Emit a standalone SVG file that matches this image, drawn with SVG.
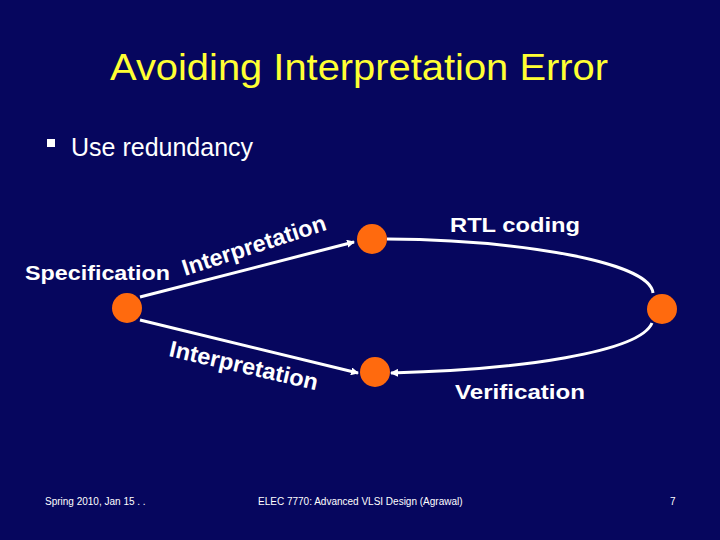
<svg xmlns="http://www.w3.org/2000/svg" width="720" height="540" viewBox="0 0 720 540">
<defs>
<marker id="ah" markerWidth="8" markerHeight="8" refX="7" refY="4" orient="auto" markerUnits="userSpaceOnUse"><path d="M0,0 L8,4 L0,8 Z" fill="#fff"/></marker>
</defs>
<style>
.t{font-family:"Liberation Sans",Arial,sans-serif;fill:#fff}
.lb{font-family:"Liberation Sans",Arial,sans-serif;fill:#fff;font-weight:bold;font-size:21px}
.ip{font-family:"Liberation Sans",Arial,sans-serif;fill:#fff;font-weight:bold;font-size:23px}
.n{fill:#ff6a0e}
.c{stroke:#fff;stroke-width:3;fill:none}
</style>
<rect width="720" height="540" fill="#06065e"/>
<text class="t" x="110" y="80" font-size="37" fill="#ffff33" style="fill:#ffff33" textLength="498" lengthAdjust="spacingAndGlyphs">Avoiding Interpretation Error</text>
<rect x="47" y="139" width="8" height="8" fill="#fff"/>
<text class="t" x="71" y="156" font-size="25">Use redundancy</text>
<g id="connectors">
<path class="c" d="M140,297 L354,242" marker-end="url(#ah)"/>
<path class="c" d="M140,320 L358,373" marker-end="url(#ah)"/>
<path class="c" d="M387,239 C520,240 650,262 653,293"/>
<path class="c" d="M652,323 C640,352 520,370 391,373" marker-end="url(#ah)"/>
</g>
<g id="spec"><circle class="n" cx="127" cy="308" r="15"/><text class="lb" x="25" y="280" textLength="145" lengthAdjust="spacingAndGlyphs">Specification</text></g>
<g id="rtl"><circle class="n" cx="372" cy="239" r="15"/><text class="lb" x="450" y="232" textLength="130" lengthAdjust="spacingAndGlyphs">RTL coding</text></g>
<g id="impl"><circle class="n" cx="662" cy="309" r="15"/></g>
<g id="verif"><circle class="n" cx="375" cy="372" r="15"/><text class="lb" x="455" y="399" textLength="130" lengthAdjust="spacingAndGlyphs">Verification</text></g>
<text class="ip" transform="translate(185,276) rotate(-18)" textLength="150" lengthAdjust="spacingAndGlyphs">Interpretation</text>
<text class="ip" transform="translate(168,356) rotate(13)" textLength="152" lengthAdjust="spacingAndGlyphs">Interpretation</text>
<text class="t" x="45" y="505" font-size="10">Spring 2010, Jan 15 . .</text>
<text class="t" x="258" y="505" font-size="10">ELEC 7770: Advanced VLSI Design (Agrawal)</text>
<text class="t" x="670" y="505" font-size="10">7</text>
</svg>
